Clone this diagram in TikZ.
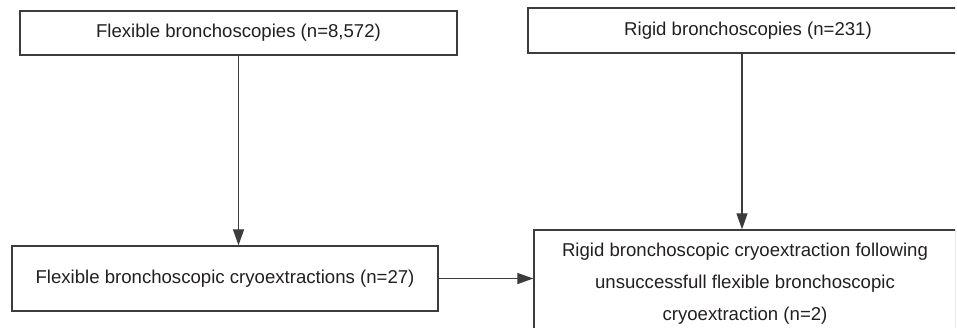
\documentclass[tikz,border=0pt]{standalone}
\usepackage{fontspec}
\setmainfont{Liberation Sans}
\usetikzlibrary{arrows.meta}
\definecolor{txt}{HTML}{231F20}
\definecolor{ln}{HTML}{3C3C3C}
\begin{document}
\begin{tikzpicture}[x=1pt,y=-1pt,
  box/.style={draw=ln,line width=1.3pt,rectangle,inner sep=0pt,text=txt,
    font=\fontsize{18.6}{32}\selectfont,align=center},
  arr/.style={draw=ln,line width=1.2pt,-{Triangle[length=16pt,width=11pt]}}]
\useasboundingbox (0,0) rectangle (957,327);
\clip (0,0) rectangle (955,327);
\node[box,minimum width=437pt,minimum height=44pt] (b1) at (238.5,33) {Flexible bronchoscopies (n=8,572)};
\node[box,minimum width=440pt,minimum height=45pt] (b2) at (748,30.5) {Rigid bronchoscopies (n=231)};
\node[box,minimum width=426pt,minimum height=65pt] (b3) at (225,278.5) {Flexible bronchoscopic cryoextractions (n=27)};
\node[box,minimum width=422pt,minimum height=108pt] (b4) at (745,284) {Rigid bronchoscopic cryoextraction following\\unsuccessfull flexible bronchoscopic\\cryoextraction (n=2)};
\draw[arr] (b1.south) -- (b1.south |- b3.north);
\draw[arr] ([xshift=-6pt]b2.south) -- ([xshift=-6pt]b2.south |- b4.north);
\draw[arr] (b3.east) -- (b3.east -| b4.west);
\end{tikzpicture}
\end{document}
